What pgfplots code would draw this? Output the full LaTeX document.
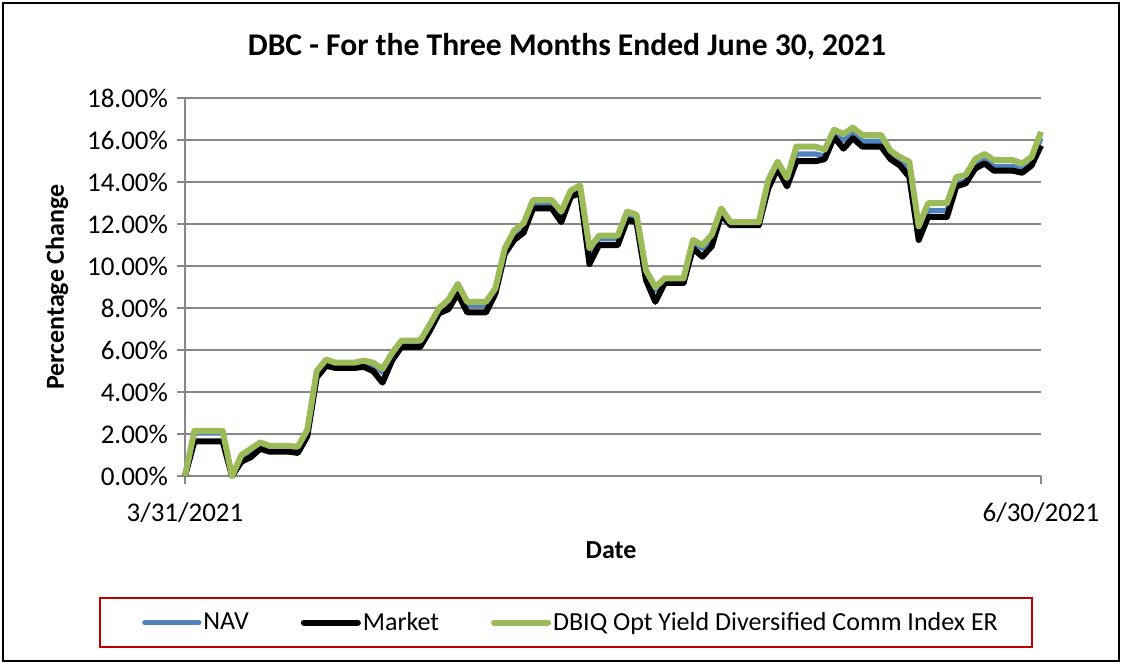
\documentclass[border=0pt]{standalone}
\usepackage{pgfplots}
\pgfplotsset{compat=1.18}
\usepackage{pgfplotstable}
\usepackage{fontspec}
\setmainfont{Carlito}
\definecolor{navblue}{HTML}{4F81BD}
\definecolor{idxgreen}{HTML}{9BBB59}
\definecolor{gridgray}{HTML}{878787}
\definecolor{legred}{HTML}{C00000}
\pgfplotstableread{
d G M N
0 0 0 0
1 2.15 1.65 2.05
2 2.15 1.65 2.05
3 2.15 1.65 2.05
4 2.15 1.65 2.05
5 0.00 0.00 0.00
6 1.00 0.68 0.90
7 1.30 0.90 1.20
8 1.60 1.30 1.50
9 1.43 1.16 1.33
10 1.43 1.16 1.33
11 1.43 1.16 1.33
12 1.40 1.10 1.30
13 2.20 1.90 2.10
14 5.00 4.70 4.90
15 5.55 5.25 5.45
16 5.40 5.15 5.30
17 5.40 5.15 5.30
18 5.40 5.15 5.30
19 5.50 5.20 5.40
20 5.40 5.00 5.30
21 5.10 4.45 4.95
22 5.85 5.50 5.75
23 6.45 6.15 6.35
24 6.45 6.15 6.35
25 6.45 6.15 6.35
26 7.20 6.90 7.10
27 8.00 7.75 7.90
28 8.40 7.95 8.30
29 9.15 8.70 9.05
30 8.30 7.80 8.15
31 8.30 7.80 8.15
32 8.30 7.80 8.15
33 8.95 8.70 8.80
34 10.85 10.60 10.70
35 11.70 11.25 11.55
36 12.05 11.60 11.90
37 13.15 12.75 13.00
38 13.15 12.75 13.00
39 13.15 12.75 13.00
40 12.60 12.10 12.45
41 13.60 13.30 13.45
42 13.85 13.50 13.70
43 10.85 10.10 10.70
44 11.45 11.00 11.30
45 11.45 11.00 11.30
46 11.45 11.00 11.30
47 12.60 12.20 12.45
48 12.45 12.10 12.30
49 9.80 9.35 9.65
50 9.00 8.30 8.85
51 9.42 9.20 9.30
52 9.42 9.20 9.30
53 9.42 9.20 9.30
54 11.25 10.85 11.10
55 11.00 10.45 10.85
56 11.50 10.95 11.35
57 12.75 12.45 12.60
58 12.10 11.95 12.00
59 12.10 11.95 12.00
60 12.10 11.95 12.00
61 12.10 11.95 12.00
62 14.10 13.70 13.85
63 14.98 14.65 14.75
64 14.20 13.80 13.95
65 15.70 15.00 15.35
66 15.70 15.00 15.35
67 15.70 15.00 15.35
68 15.55 15.10 15.25
69 16.50 16.15 16.25
70 16.30 15.60 16.00
71 16.60 16.10 16.35
72 16.25 15.70 15.95
73 16.25 15.70 15.95
74 16.25 15.70 15.95
75 15.50 15.10 15.25
76 15.20 14.80 14.95
77 14.98 14.25 14.70
78 11.90 11.25 11.60
79 13.00 12.35 12.65
80 13.00 12.35 12.65
81 13.00 12.35 12.65
82 14.25 13.80 13.95
83 14.35 13.95 14.05
84 15.10 14.65 14.80
85 15.35 14.90 15.05
86 15.05 14.55 14.75
87 15.05 14.55 14.75
88 15.05 14.55 14.75
89 14.90 14.45 14.60
90 15.20 14.80 14.95
91 16.40 15.75 16.10
}\data
\begin{document}
\begin{tikzpicture}
\useasboundingbox (0,0) rectangle (561pt,332pt);
\draw[black, line width=1pt] (1.5pt,1.5pt) rectangle (559.5pt,330.5pt);
\begin{axis}[
  at={(92.5pt,94pt)}, anchor=south west, scale only axis,
  width=428pt, height=188.85pt,
  xmin=0, xmax=91, ymin=0, ymax=18,
  axis x line*=bottom, axis y line*=left,
  axis line style={gridgray, line width=1pt, -},
  ytick={0,2,4,6,8,10,12,14,16,18},
  yticklabels={0.00\%,2.00\%,4.00\%,6.00\%,8.00\%,10.00\%,12.00\%,14.00\%,16.00\%,18.00\%},
  xtick={0,91}, xticklabels={3/31/2021,6/30/2021},
  ymajorgrids, grid style={gridgray, line width=1pt},
  tick align=outside, major tick length=4pt,
  tick style={gridgray, line width=1pt},
  tick label style={font=\fontsize{13.5}{16}\selectfont},
  xticklabel style={yshift=-6pt},
  yticklabel style={xshift=-1pt},
  legend columns=3,
  legend style={draw=none, fill=none, at={(axis description cs:0.451,-0.388)}, anchor=center,
    font=\fontsize{13}{15}\selectfont, nodes={inner xsep=1pt},
    /tikz/every even column/.append style={column sep=25pt}},
  legend image code/.code={\draw[#1, line cap=round] (0pt,0pt) -- (27pt,0pt);},
  clip=false,
]
\addplot[navblue, line width=2.6pt, line join=round] table[x=d,y=N]{\data};
\addlegendentry{NAV}
\addplot[black, line width=3pt, line join=round] table[x=d,y=M]{\data};
\addlegendentry{Market}
\addplot[idxgreen, line width=3pt, line join=round] table[x=d,y=G]{\data};
\addlegendentry{DBIQ Opt Yield Diversified Comm Index ER}
\end{axis}
\node[font=\bfseries\fontsize{15.8}{18}\selectfont] at (283.5pt,308.5pt) {DBC - For the Three Months Ended June 30, 2021};
\node[rotate=90, font=\bfseries\fontsize{13}{15}\selectfont] at (28.5pt,188.5pt) {Percentage Change};
\node[font=\bfseries\fontsize{13}{15}\selectfont] at (305.5pt,57pt) {Date};
\draw[legred, line width=1pt] (50pt,8.5pt) rectangle (516pt,33pt);
\end{tikzpicture}
\end{document}
